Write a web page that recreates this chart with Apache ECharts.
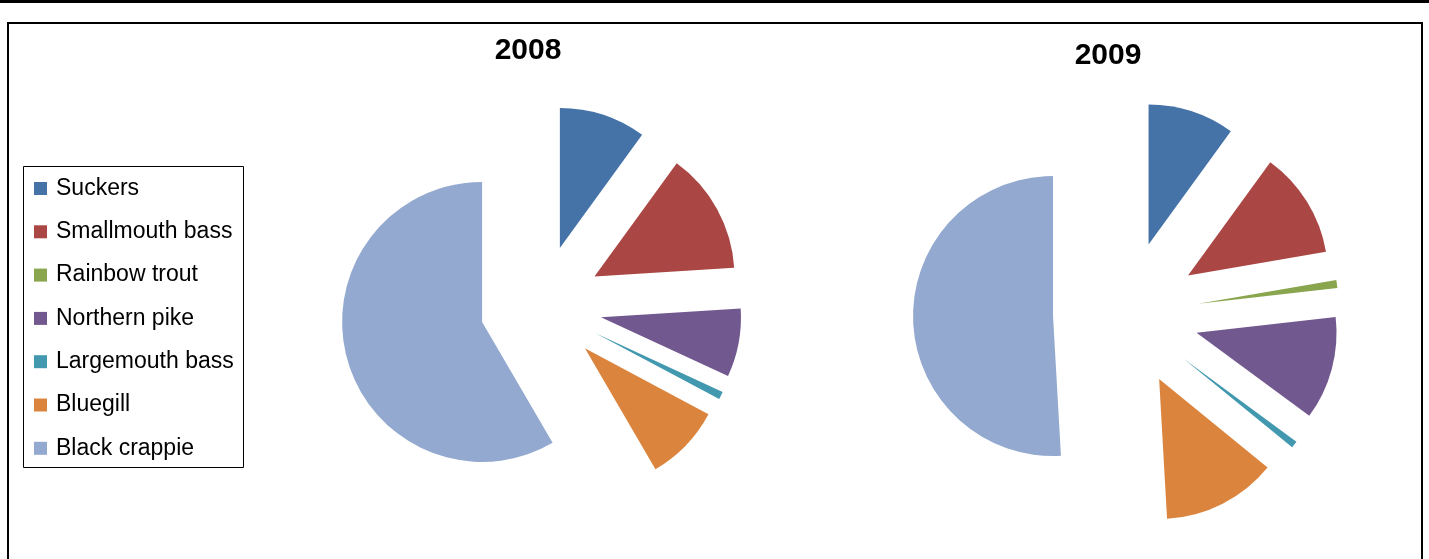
<!DOCTYPE html>
<html>
<head>
<meta charset="utf-8">
<title>2008 / 2009</title>
<script src="https://cdn.jsdelivr.net/npm/echarts@6/dist/echarts.min.js"></script>
<style>
  html, body { margin: 0; padding: 0; background: #fff; }
  #chart { width: 1429px; height: 559px; }
</style>
</head>
<body>
<div id="chart"></div>
<script>
// species, same order in both years
var species = ['Suckers', 'Smallmouth bass', 'Rainbow trout', 'Northern pike',
               'Largemouth bass', 'Bluegill', 'Black crappie'];
// share of catch in percent
var values2008 = [10.0, 14.0, 0, 7.9, 0.9, 8.8, 58.4];
var values2009 = [10.0, 12.3, 0.9, 11.9, 0.8, 13.2, 50.9];
var years = ['2008', '2009'];

var colors = ['#4572A7', '#AA4643', '#89A54E', '#71588F', '#4198AF', '#DB843D', '#93A9CF'];

function slices(values) {
    return species.map(function (name, i) {
        return { name: name, value: values[i], selected: true };
    });
}

function pie(name, values, center, offset) {
    return {
        name: name,
        type: 'pie',
        center: center,
        radius: 140,
        startAngle: 90,
        clockwise: true,
        selectedMode: 'multiple',
        selectedOffset: offset,
        avoidLabelOverlap: false,
        label: { show: false },
        labelLine: { show: false },
        itemStyle: { borderWidth: 0 },
        select: { itemStyle: { borderWidth: 0 } },
        emphasis: { scale: false },
        data: slices(values)
    };
}

var myChart = echarts.init(document.getElementById('chart'));
myChart.setOption({
    animation: false,
    color: colors,
    legend: {
        orient: 'vertical',
        left: 34,
        top: 177,
        padding: 0,
        itemWidth: 13,
        itemHeight: 13,
        itemGap: 20.3,
        icon: 'rect',
        selectedMode: false,
        data: species,
        textStyle: {
            fontFamily: 'Liberation Sans',
            fontSize: 23,
            lineHeight: 23,
            color: '#000',
            padding: [0, 0, 0, 4]
        }
    },
    graphic: [
        // rule along the top of the page
        { type: 'rect', shape: { x: 0, y: 0, width: 1429, height: 3 }, style: { fill: '#000' } },
        // chart frame
        { type: 'rect', shape: { x: 8, y: 23, width: 1414, height: 560 },
          style: { fill: 'none', stroke: '#000', lineWidth: 2 } },
        // legend box
        { type: 'rect', shape: { x: 23.5, y: 166.5, width: 220, height: 301 },
          style: { fill: 'none', stroke: '#000', lineWidth: 1 } },
        { type: 'text', x: 528, y: 51,
          style: { text: years[0], fill: '#000', font: 'bold 30px "Liberation Sans"',
                   textAlign: 'center', textVerticalAlign: 'middle' } },
        { type: 'text', x: 1108, y: 56,
          style: { text: years[1], fill: '#000', font: 'bold 30px "Liberation Sans"',
                   textAlign: 'center', textVerticalAlign: 'middle' } }
    ],
    series: [
        pie(years[0], values2008, [541, 306], 61),
        pie(years[1], values2009, [1126, 314], 73)
    ]
});
</script>
</body>
</html>
